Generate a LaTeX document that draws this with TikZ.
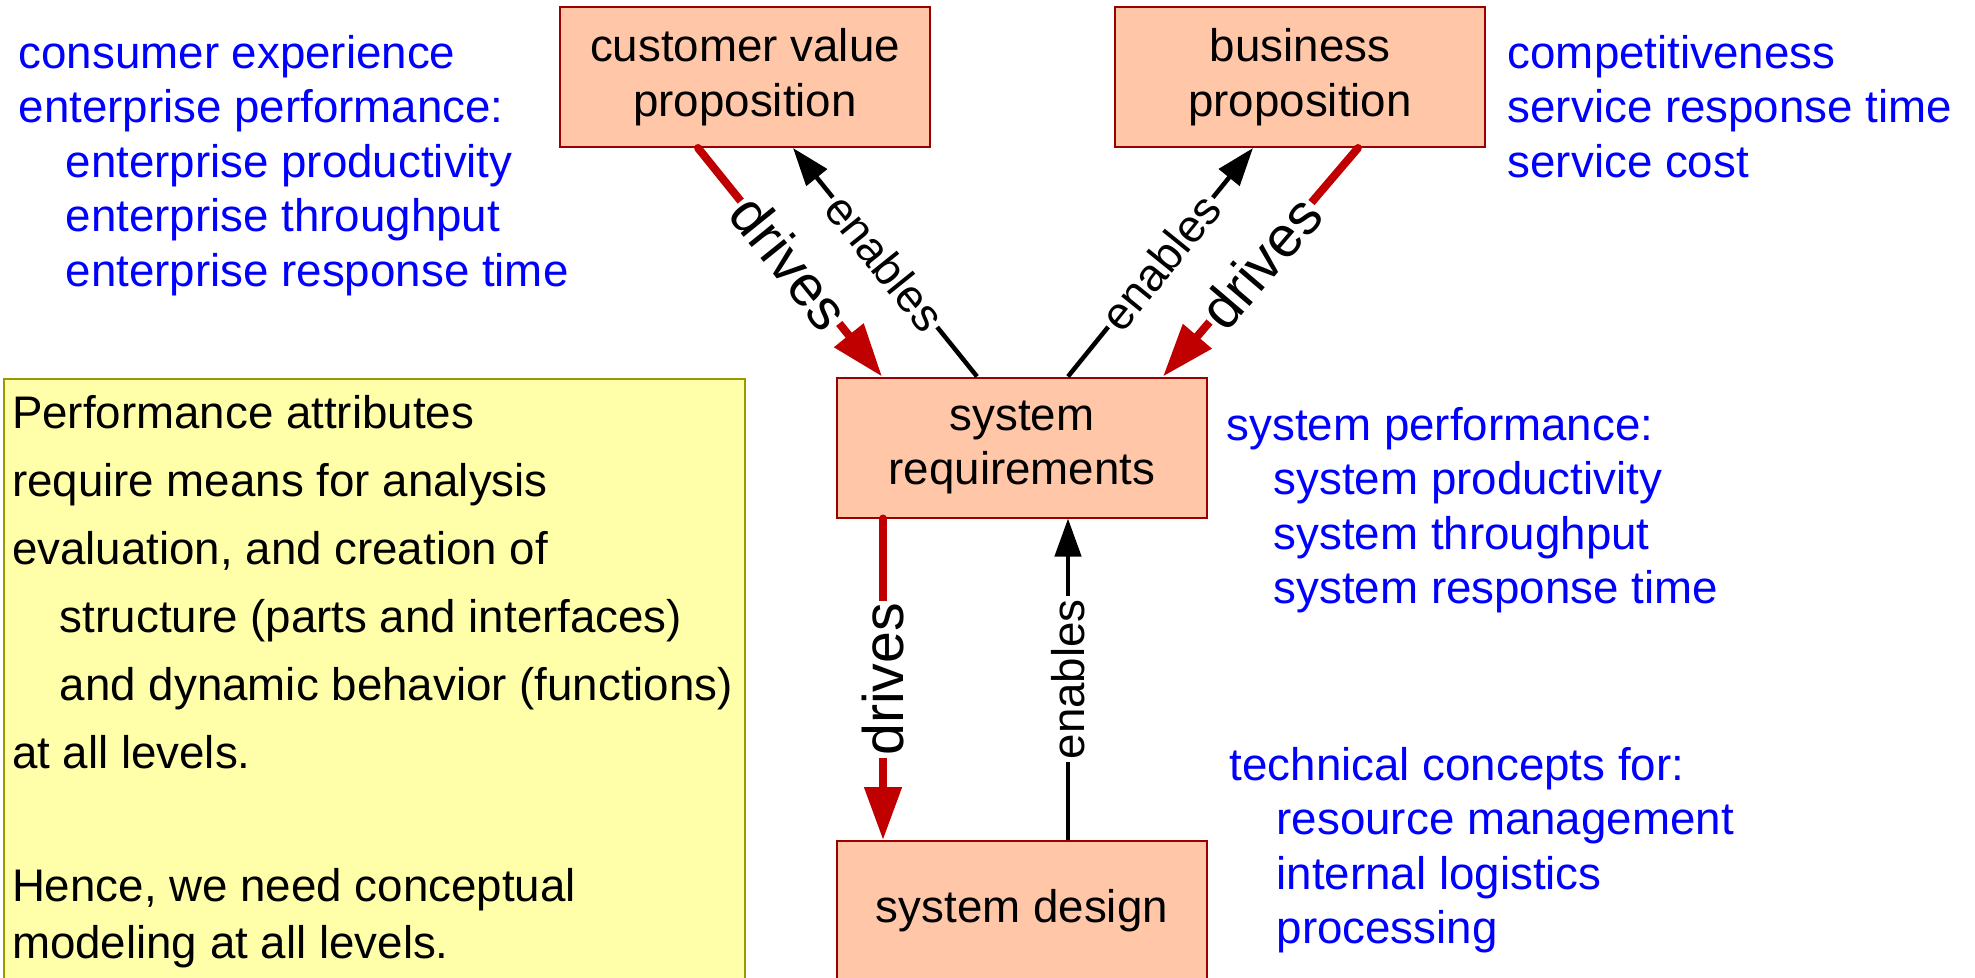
\documentclass[tikz,border=0pt]{standalone}
\usepackage{fontspec}
\setmainfont{Liberation Sans}
\usepackage{xcolor}
\usepackage{tikz}
\usetikzlibrary{arrows.meta}

\definecolor{boxfill}{HTML}{FFC6A8}
\definecolor{boxline}{HTML}{990000}
\definecolor{notefill}{HTML}{FFFFAA}
\definecolor{noteline}{HTML}{999900}
\definecolor{drivered}{HTML}{C00000}
\definecolor{txtblue}{HTML}{0000FF}

\begin{document}
\begin{tikzpicture}[x=0.1mm, y=-0.1mm,
    box/.style={draw=boxline, line width=0.2mm, fill=boxfill, minimum width=37mm, minimum height=14mm, align=center, font=\fontsize{13}{15.6}\selectfont},
    bluetext/.style={anchor=north west, inner sep=0pt, align=left, text=txtblue, font=\fontsize{13}{15.5}\selectfont},
    drives/.style={draw=drivered, line width=0.8mm, line cap=round, -{Triangle[length=5.3mm,width=3.6mm]}},
    enables/.style={draw=black, line width=0.45mm, -{Triangle[length=3.8mm,width=2.6mm]}},
    smalllbl/.style={fill=white, inner sep=0.3mm, font=\fontsize{13}{15}\selectfont},
    biglbl/.style={fill=white, inner sep=0.2mm, font=\fontsize{16.3}{18}\selectfont}]
    \useasboundingbox (0,0) rectangle (1975,977);
    \clip (0,0) rectangle (1975,977);

    % the four levels
    \node (cvp) [box] at (745,77) {customer value\\proposition};
    \node (bp) [box] at (1300,77) {business\\proposition};
    \node (sr) [box] at (1022,447.5) {system\\requirements};
    \node (sd) [box] at (1022,911) {system design};

    % qualities per level
    \node (cxq) [bluetext] at (18,29.5) {\strut consumer experience\\enterprise performance:\\
      \hspace*{4.7mm}enterprise productivity\\\hspace*{4.7mm}enterprise throughput\\
      \hspace*{4.7mm}enterprise response time};
    \node (bpq) [bluetext] at (1507,29.5) {\strut competitiveness\\service response time\\service cost};
    \node (srq) [bluetext] at (1226,401.5) {\strut system performance:\\
      \hspace*{4.7mm}system productivity\\\hspace*{4.7mm}system throughput\\
      \hspace*{4.7mm}system response time};
    \node (sdq) [bluetext] at (1229,741.5) {\strut technical concepts for:\\
      \hspace*{4.7mm}resource management\\\hspace*{4.7mm}internal logistics\\
      \hspace*{4.7mm}processing};

    % note
    \node (note) [draw=noteline, fill=notefill, line width=0.2mm, anchor=north west,
      inner xsep=0.8mm, inner ysep=1mm, text width=72.5mm, align=flush left,
      font=\fontsize{13}{16.2}\selectfont] at (3,378) {\strut Performance attributes\\[3.15pt]
      require means for analysis\\[3.15pt]
      evaluation, and creation of\\[3.15pt]
      \hspace*{4.8mm}\mbox{structure (parts and interfaces)}\\[3.15pt]
      \hspace*{4.8mm}\mbox{and dynamic behavior (functions)}\\[3.15pt]
      at all levels.\\[21.6pt]
      Hence, we need conceptual\\
      modeling at all levels.\strut};

    % drives and enables
    \draw [drives] ([xshift=-4.7mm]cvp.south) -- node [sloped, biglbl] {drives} ([xshift=-14mm]sr.north);
    \draw [enables] ([xshift=-4.5mm]sr.north) -- node [sloped, smalllbl] {enables} ([xshift=4.8mm]cvp.south);
    \draw [enables] ([xshift=4.6mm]sr.north) -- node [sloped, smalllbl] {enables} ([xshift=-4.7mm]bp.south);
    \draw [drives] ([xshift=5.8mm]bp.south) -- node [sloped, biglbl] {drives} ([xshift=14.1mm]sr.north);
    \draw [drives] ([xshift=-13.9mm]sr.south) -- node [rotate=90, biglbl] {drives} ([xshift=-13.9mm]sd.north);
    \draw [enables] ([xshift=4.6mm]sd.north) -- node [rotate=90, smalllbl] {enables} ([xshift=4.6mm]sr.south);
\end{tikzpicture}
\end{document}
